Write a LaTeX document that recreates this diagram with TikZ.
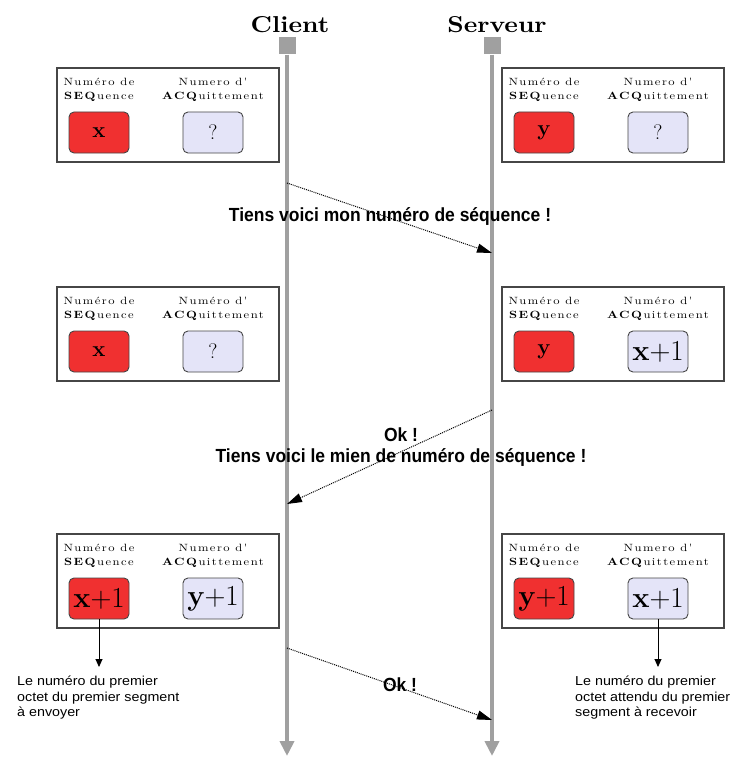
\documentclass[tikz,border=0pt]{standalone}
\usepackage{fontspec}
\setsansfont{Liberation Sans}
\newfontfamily\msgfont[FakeStretch=0.92]{Liberation Sans}
\newfontfamily\notefont[FakeStretch=1.1]{Liberation Sans}
\newfontfamily\labfont{lmroman10}[Extension=.otf, UprightFont=*-regular, BoldFont=*-bold, FakeStretch=1.2, LetterSpace=14]
\newfontfamily\headfont{lmroman10}[Extension=.otf, UprightFont=*-regular, BoldFont=*-bold, FakeStretch=1.12]
\usetikzlibrary{arrows.meta}

\definecolor{lifegray}{RGB}{160,160,160}
\definecolor{seqred}{RGB}{240,48,48}
\definecolor{acklav}{RGB}{228,228,248}
\definecolor{framegray}{RGB}{70,70,70}

% value texts inside the small boxes
\newcommand\vbig[1]{\fontsize{22}{22}\selectfont\bfseries #1}
\newcommand\vplus[1]{\fontsize{29}{29}\selectfont\textbf{#1}+1}
\newcommand\vq{\fontsize{21}{21}\selectfont ?}

% one state panel: #1 name, #2 left x, #3 top y, #4 seq value, #5 ack value, #6 word of the ack label
\newcommand\seqpanel[6]{%
  \begin{scope}[shift={(#2,#3)}]
    \node[panel] (#1) at (111,47) {};
    \node[lab] (#1-sl) at (42,22) {Numéro de\\\textbf{SEQ}uence};
    \node[lab] (#1-al) at (156,22) {#6 d'\\\textbf{ACQ}uittement};
    \node[seqbox] (#1-seq) at (42,64.5) {#4};
    \node[ackbox] (#1-ack) at (156,64.5) {#5};
  \end{scope}}

\tikzset{
  lifeline/.style={draw=lifegray, line width=4pt, -{Triangle[length=15pt,width=14pt]}},
  headbox/.style={fill=lifegray, minimum size=17pt, inner sep=0pt},
  titletext/.style={font=\headfont\bfseries\fontsize{23}{25}\selectfont, inner sep=0pt},
  panel/.style={draw=framegray, line width=1.3pt, fill=white, minimum width=222pt, minimum height=94pt, inner sep=0pt},
  valbox/.style={draw=framegray, line width=0.9pt, rounded corners=5pt, minimum width=60pt, minimum height=41pt, inner sep=0pt},
  seqbox/.style={valbox, fill=seqred},
  ackbox/.style={valbox, fill=acklav},
  lab/.style={font=\labfont\fontsize{10.5}{14}\selectfont, inner sep=0pt, align=center},
  msg/.style={densely dotted, line width=1pt, -{Triangle[length=15pt,width=9pt]}},
  msglab/.style={font=\msgfont\bfseries\fontsize{19}{21}\selectfont, inner sep=0pt, align=center},
  notetext/.style={font=\notefont\fontsize{13}{15.5}\selectfont, align=left, inner sep=0pt},
  pointer/.style={line width=0.9pt, -{Triangle[length=8pt,width=7pt]}}
}

\begin{document}
\begin{tikzpicture}[x=1pt,y=-1pt]
  \useasboundingbox (0,0) rectangle (733,757);

  % actors and their lifelines
  \node[titletext] (ctitle) at (290,25) {Client};
  \node[titletext] (stitle) at (497,25) {Serveur};
  \node[headbox] (chead) at (287,46) {};
  \node[headbox] (shead) at (492,46) {};
  \coordinate (cend) at (287,756);
  \coordinate (send) at (492,756);
  \draw[lifeline] (chead.south) -- (cend);
  \draw[lifeline] (shead.south) -- (send);

  % state of both sides at each step
  \seqpanel{L1}{57}{68}{\vbig{x}}{\vq}{Numero}
  \seqpanel{R1}{502}{68}{\vbig{y}}{\vq}{Numero}
  \seqpanel{L2}{57}{287}{\vbig{x}}{\vq}{Numéro}
  \seqpanel{R2}{502}{287}{\vbig{y}}{\vplus{x}}{Numéro}
  \seqpanel{L3}{57}{534}{\vplus{x}}{\vplus{y}}{Numero}
  \seqpanel{R3}{502}{534}{\vplus{y}}{\vplus{x}}{Numero}

  % exchanged segments
  \coordinate (m1s) at (287,183);
  \coordinate (m1e) at (492,253);
  \coordinate (m2s) at (492,410);
  \coordinate (m2e) at (287,504);
  \coordinate (m3s) at (287,648);
  \coordinate (m3e) at (492,720);
  \draw[msg] (m1s) -- (m1e);
  \draw[msg] (m2s) -- (m2e);
  \draw[msg] (m3s) -- (m3e);
  \node[msglab] (t1) at (390,217) {Tiens voici mon numéro de séquence !};
  \node[msglab] (t2) at (401,447) {Ok !\\Tiens voici le mien de numéro de séquence !};
  \node[msglab] (t3) at (400,685) {Ok !};

  % meaning of the final numbers
  \coordinate (pl) at (99,667);
  \coordinate (pr) at (658,667);
  \draw[pointer] (L3-seq.south) -- (L3-seq.south |- pl);
  \draw[pointer] (R3-ack.south) -- (R3-ack.south |- pr);
  \node[notetext, anchor=north west] (nl) at (17,676) {Le numéro du premier\\octet du premier segment\\à envoyer};
  \node[notetext, anchor=north west] (nr) at (575,676) {Le numéro du premier\\octet attendu du premier\\segment à recevoir};
\end{tikzpicture}
\end{document}
